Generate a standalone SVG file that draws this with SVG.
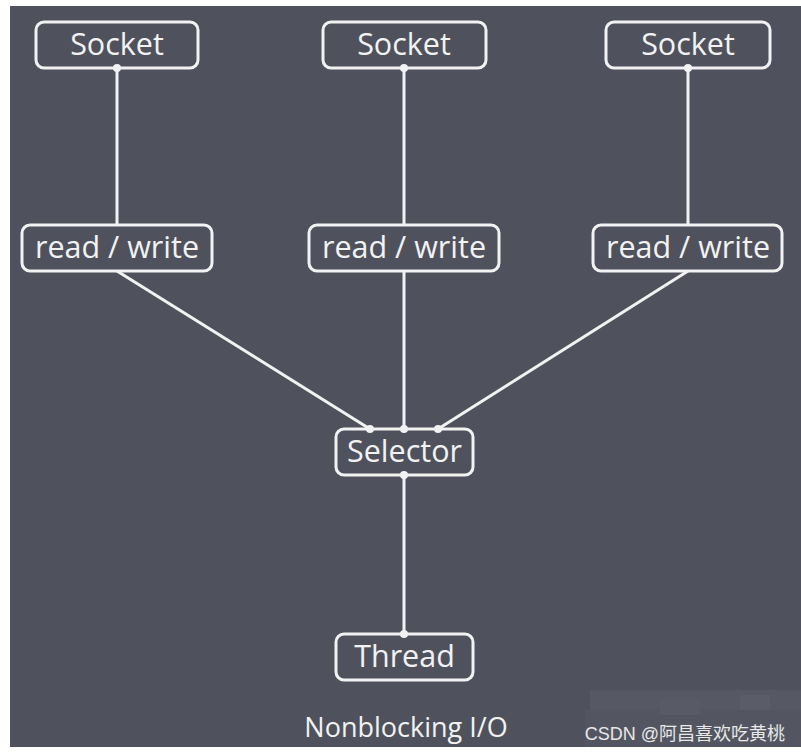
<svg xmlns="http://www.w3.org/2000/svg" width="801" height="752" viewBox="0 0 801 752">
<style>
.box{fill:#4f525d;stroke:#f2f2f2;stroke-width:3}
.lbl{font-family:"Open Sans","Noto Sans",sans-serif;font-size:30.5px;fill:#f2f2f2;text-anchor:middle}
.ln{stroke:#f2f2f2;stroke-width:3;fill:none}
.dot{fill:#f2f2f2}
</style>
<rect x="0" y="0" width="801" height="752" fill="#ffffff"/>
<rect x="10" y="6" width="791" height="741" fill="#4f525d"/>
<g id="watermark-bg" opacity="0.35">
<rect x="590" y="690" width="211" height="20" fill="#63666f"/>
<rect x="585" y="710" width="216" height="37" fill="#5d6069"/>
<rect x="660" y="700" width="40" height="15" fill="#6b6e77"/>
<rect x="740" y="695" width="30" height="15" fill="#70737b"/>
</g>
<g id="connectors">
<line class="ln" x1="117" y1="68" x2="117" y2="225"/>
<line class="ln" x1="404" y1="68" x2="404" y2="225"/>
<line class="ln" x1="688" y1="68" x2="688" y2="225"/>
<line class="ln" x1="117" y1="271" x2="370" y2="429"/>
<line class="ln" x1="404" y1="271" x2="404" y2="429"/>
<line class="ln" x1="688" y1="271" x2="438" y2="429"/>
<line class="ln" x1="404" y1="475" x2="404" y2="634"/>
</g>
<g id="socket1"><rect class="box" x="36" y="22" width="162" height="46" rx="8"/><text class="lbl" x="117" y="55">Socket</text></g>
<g id="socket2"><rect class="box" x="323" y="22" width="163" height="46" rx="8"/><text class="lbl" x="404" y="55">Socket</text></g>
<g id="socket3"><rect class="box" x="606" y="22" width="164" height="46" rx="8"/><text class="lbl" x="688" y="55">Socket</text></g>
<g id="rw1"><rect class="box" x="22" y="225" width="190" height="46" rx="8"/><text class="lbl" x="117" y="258">read / write</text></g>
<g id="rw2"><rect class="box" x="309" y="225" width="190" height="46" rx="8"/><text class="lbl" x="404" y="258">read / write</text></g>
<g id="rw3"><rect class="box" x="593" y="225" width="189" height="46" rx="8"/><text class="lbl" x="688" y="258">read / write</text></g>
<g id="selector"><rect class="box" x="336" y="429" width="137" height="46" rx="8"/><text class="lbl" x="404.5" y="462">Selector</text></g>
<g id="thread"><rect class="box" x="336" y="634" width="137" height="46" rx="8"/><text class="lbl" x="404.5" y="667">Thread</text></g>
<g id="dots">
<circle class="dot" cx="117" cy="68" r="4"/>
<circle class="dot" cx="404" cy="68" r="4"/>
<circle class="dot" cx="688" cy="68" r="4"/>
<circle class="dot" cx="370" cy="429" r="4"/>
<circle class="dot" cx="404" cy="429" r="4"/>
<circle class="dot" cx="438" cy="429" r="4"/>
<circle class="dot" cx="404" cy="475" r="4"/>
<circle class="dot" cx="404" cy="634" r="4"/>
</g>
<text x="406" y="737" style="font-family:'Open Sans','Noto Sans',sans-serif;font-size:27px;fill:#f2f2f2;text-anchor:middle">Nonblocking I/O</text>
<text x="785" y="740" style="font-family:'Liberation Sans','Noto Sans CJK SC',sans-serif;font-size:18px;fill:#e8e8e8;text-anchor:end">CSDN @阿昌喜欢吃黄桃</text>
</svg>
